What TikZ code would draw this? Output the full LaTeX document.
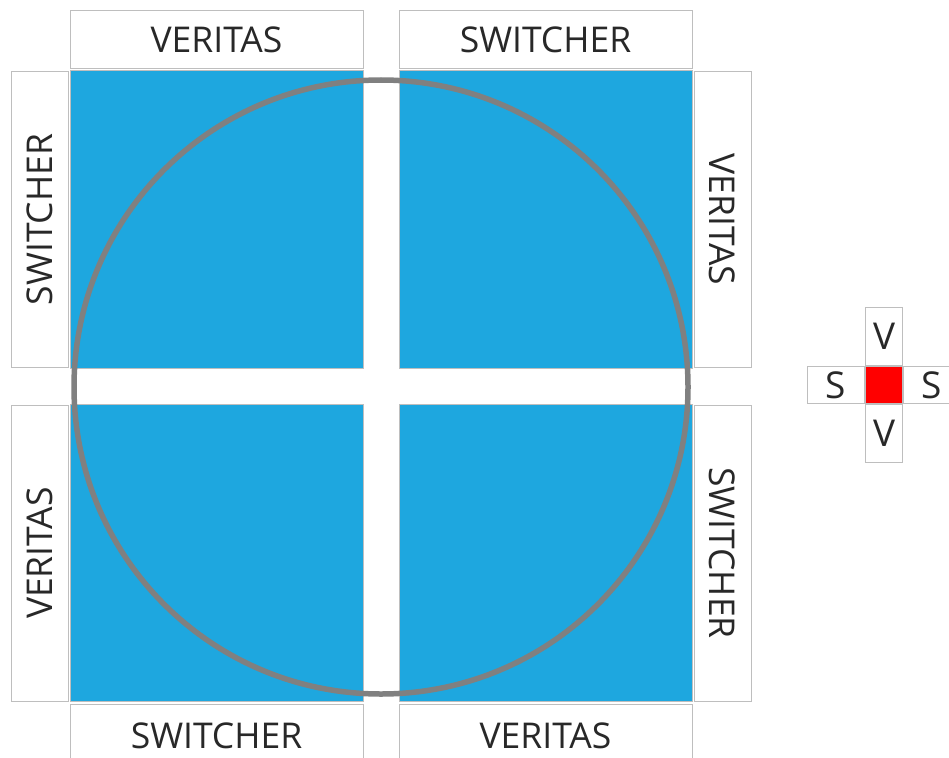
\documentclass[tikz,border=0pt]{standalone}
\usepackage{fontspec}
\setmainfont{Open Sans}
\usepackage{xcolor}
\usepackage{tikz}
\usetikzlibrary{positioning,calc}
\definecolor{PanelBlue}{RGB}{30,167,223}
\definecolor{FrameGray}{RGB}{190,190,190}
\definecolor{RingGray}{RGB}{128,128,128}
\definecolor{InkGray}{RGB}{40,40,40}
\tikzset{
    panel/.style={rectangle, draw=FrameGray, line width=1pt, fill=PanelBlue, inner sep=0pt},
    tag/.style={rectangle, draw=FrameGray, line width=1pt, fill=white, inner sep=0pt, text=InkGray, font=\fontsize{35.5}{36}\selectfont}
}

\begin{document}
\begin{tikzpicture}[x=1pt, y=-1pt,
					% Style cho nhãn dài
					longtag/.style={tag, minimum width=293pt, minimum height=58pt},
					% Style cho nhãn nhỏ
					smalltag/.style={tag, font=\fontsize{37}{38}\selectfont}
				]
					\useasboundingbox (0,0) rectangle (949,757);
					
					% --- BỐN Ô XANH ---
					\node[panel, minimum width=293pt, minimum height=297pt] (TL) at (216.5,219.5) {};
					\node[panel, minimum width=293pt, minimum height=297pt] (TR) at (545.5,219.5) {};
					\node[panel, minimum width=293pt, minimum height=297pt] (BL) at (216.5,553) {};
					\node[panel, minimum width=293pt, minimum height=297pt] (BR) at (545.5,553) {};
					
					% --- NHÃN TRÊN / DƯỚI ---
					\node[longtag] (topL) at (216.5,40) {VERITAS};
					\node[longtag] (topR) at (545.5,40) {SWITCHER};
					\node[longtag, minimum height=64pt] (botL) at (216.5,736) {};
					\node[text=InkGray, font=\fontsize{35.5}{36}\selectfont] at (botL.center) {SWITCHER};
					\node[longtag, minimum height=64pt] (botR) at (545.5,736) {};
					\node[text=InkGray, font=\fontsize{35.5}{36}\selectfont] at (botR.center) {VERITAS};
					
					% --- NHÃN TRÁI / PHẢI ---
					\node[longtag, minimum width=296pt, minimum height=57pt, rotate=90] (leftT) at (39.5,219.5) {SWITCHER};
					\node[longtag, minimum width=296pt, minimum height=57pt, rotate=90] (leftB) at (39.5,553) {VERITAS};
					\node[longtag, minimum width=296pt, minimum height=57pt, rotate=-90] (rightT) at (722.5,219.5) {VERITAS};
					\node[longtag, minimum width=296pt, minimum height=57pt, rotate=-90] (rightB) at (722.5,553) {SWITCHER};
					
					% --- VÒNG TRÒN ---
					\node[circle, draw=RingGray, line width=5.5pt, minimum size=614pt, inner sep=0pt] (ring) at (381,387) {};
					
					% --- CHÚ THÍCH ---
					\node[rectangle, draw=FrameGray, line width=1pt, fill=red, minimum width=37pt, minimum height=37pt, inner sep=0pt] (mark) at (884,385) {};
					\node[smalltag, minimum width=37pt, minimum height=58pt, above=0pt of mark] (vUp) {V};
					\node[smalltag, minimum width=37pt, minimum height=58pt, below=0pt of mark] (vDown) {V};
					\node[smalltag, minimum width=57pt, minimum height=37pt, left=0pt of mark] (sLeft) {S};
					\node[smalltag, minimum width=57pt, minimum height=37pt, right=0pt of mark] (sRight) {S};
					
				\end{tikzpicture}
\end{document}
